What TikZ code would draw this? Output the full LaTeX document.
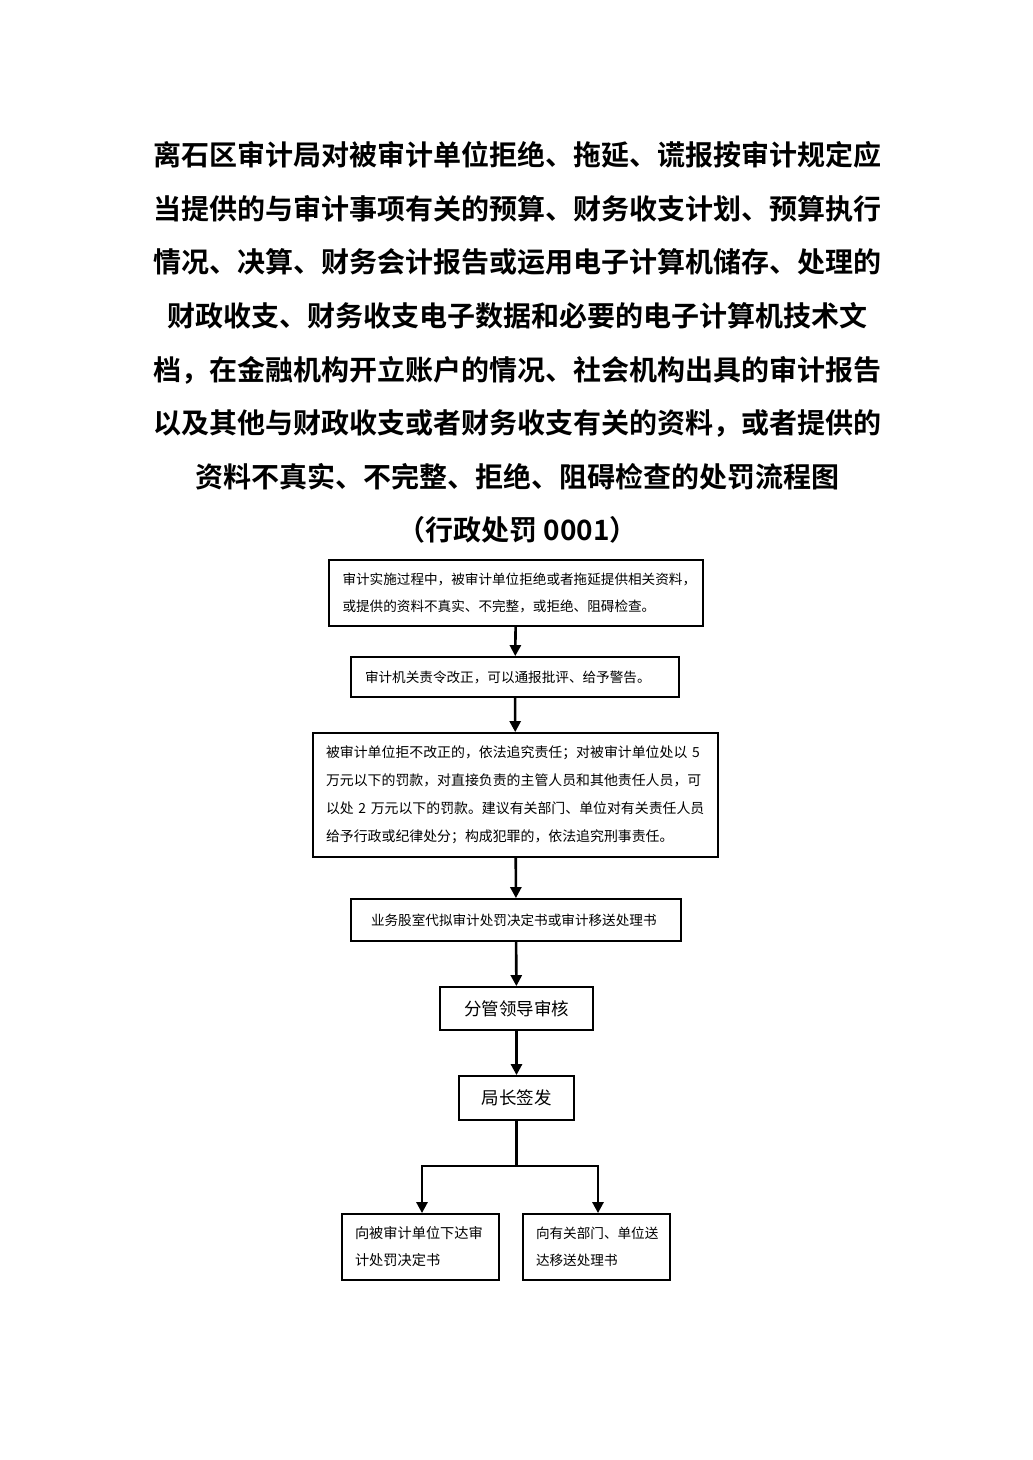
\documentclass[tikz,border=0pt]{standalone}
\usepackage{fontspec}
\newfontfamily\cjk{Noto Sans CJK SC}
\newfontfamily\cjkb{Noto Sans CJK SC Bold}
\usetikzlibrary{arrows.meta,calc}
\tikzset{
  box/.style={draw=black, line width=1.8pt, inner sep=0pt, align=left},
  flow/.style={line width=2.6pt, -{Triangle[length=11pt,width=11pt]}},
  plain/.style={line width=2.6pt},
  small/.style={font=\cjk\fontsize{13.6}{27.5}\selectfont},
  mid/.style={font=\cjk\fontsize{17.5}{22}\selectfont}
}
\begin{document}
\begin{tikzpicture}[x=1pt,y=-1pt]
\useasboundingbox (0,0) rectangle (1033,1460);
\node[align=center, font=\cjkb\fontsize{28}{53.6}\selectfont] (title) at (517.5,342.5)
 {离石区审计局对被审计单位拒绝、拖延、谎报按审计规定应\\
  当提供的与审计事项有关的预算、财务收支计划、预算执行\\
  情况、决算、财务会计报告或运用电子计算机储存、处理的\\
  财政收支、财务收支电子数据和必要的电子计算机技术文\\
  档，在金融机构开立账户的情况、社会机构出具的审计报告\\
  以及其他与财政收支或者财务收支有关的资料，或者提供的\\
  资料不真实、不完整、拒绝、阻碍检查的处罚流程图\\
  （行政处罚 0001）};
\node[box, small, minimum width=374, minimum height=66, text width=347] (b1) at (516,593)
 {审计实施过程中，被审计单位拒绝或者拖延提供相关资料，\\或提供的资料不真实、不完整，或拒绝、阻碍检查。};
\node[box, small, minimum width=328, minimum height=40, text width=300] (b2) at (515,677)
 {审计机关责令改正，可以通报批评、给予警告。};
\node[box, font=\cjk\fontsize{13.9}{28}\selectfont, minimum width=405, minimum height=124, text width=379] (b3) at (515.5,795)
 {被审计单位拒不改正的，依法追究责任；对被审计单位处以 5\\
  万元以下的罚款，对直接负责的主管人员和其他责任人员，可\\
  以处 2 万元以下的罚款。建议有关部门、单位对有关责任人员\\
  给予行政或纪律处分；构成犯罪的，依法追究刑事责任。};
\node[box, small, minimum width=330, minimum height=42, text width=290] (b4) at (516,920)
 {业务股室代拟审计处罚决定书或审计移送处理书};
\node[box, mid, minimum width=153, minimum height=43, align=center] (b5) at (516.5,1008.5) {分管领导审核};
\node[box, mid, minimum width=115, minimum height=44, align=center] (b6) at (516.5,1098) {局长签发};
\node[box, font=\cjk\fontsize{14.2}{27}\selectfont, minimum width=157, minimum height=66, text width=131] (b7) at (420.5,1247)
 {向被审计单位下达审\\计处罚决定书};
\node[box, font=\cjk\fontsize{13.6}{27}\selectfont, minimum width=147, minimum height=66, text width=121] (b8) at (596.5,1247)
 {向有关部门、单位送\\达移送处理书};
\draw[flow] (b1) -- (b2);
\draw[flow] (b2) -- (b3);
\draw[flow] (b3) -- (b4);
\draw[flow] (b4) -- (b5);
\draw[flow] (b5) -- (b6);
\coordinate (j) at ($(b6.south)+(0,45)$);
\draw[plain] (b6.south) -- (j);
\draw[flow] (j) -| ($(b7.north)+(1.5,0)$);
\draw[flow] (j) -| ($(b8.north)+(1.5,0)$);
\end{tikzpicture}
\end{document}
